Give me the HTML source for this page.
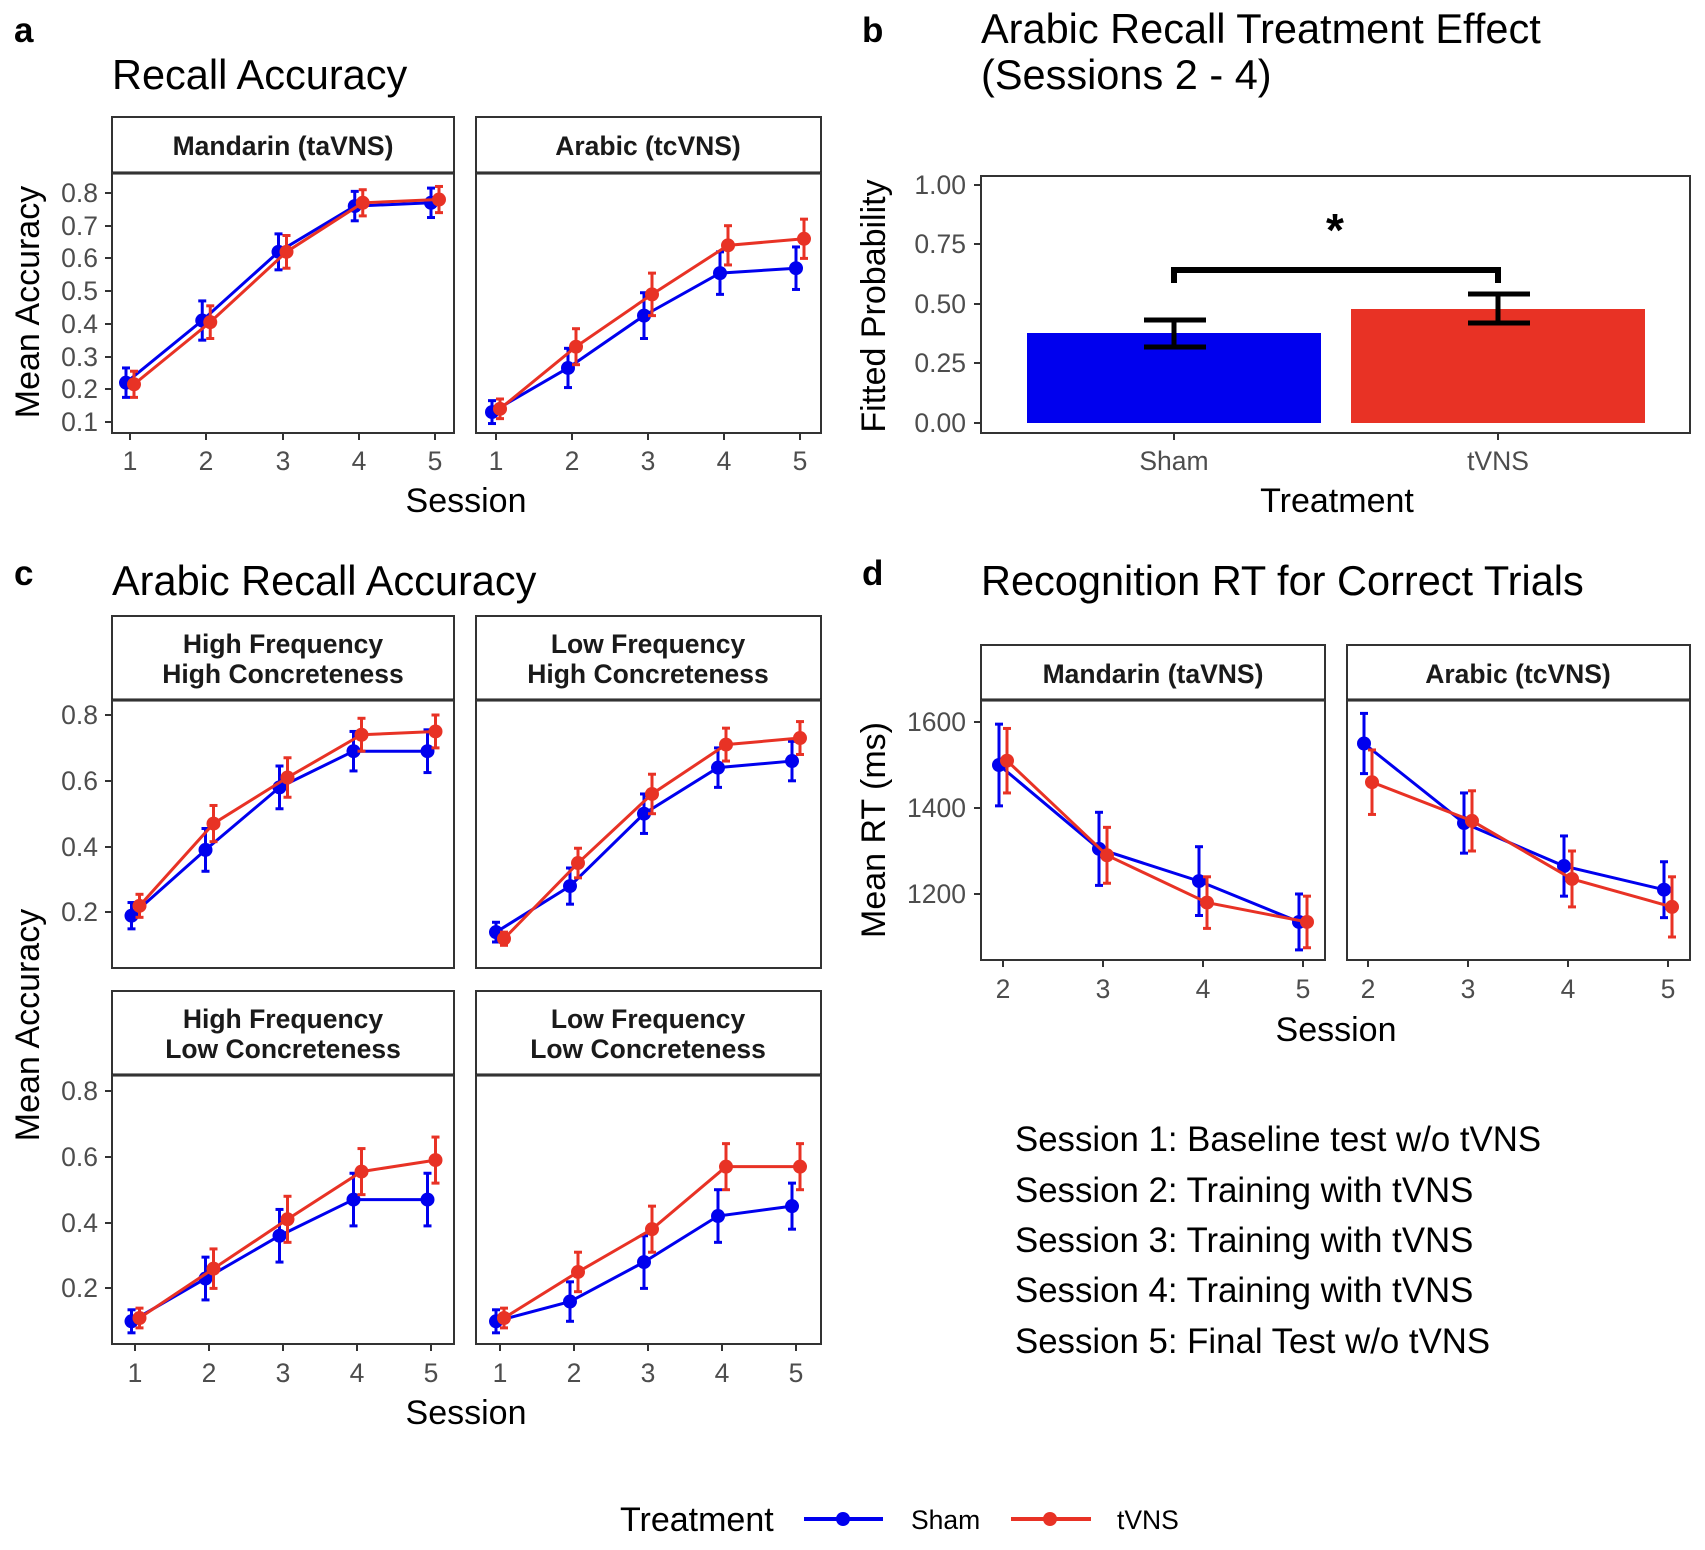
<!DOCTYPE html>
<html><head><meta charset="utf-8"><style>
html,body{margin:0;padding:0;background:#fff}
svg{display:block}
text{font-family:"Liberation Sans",Arial,sans-serif}
.tk{font-size:26.5px;fill:#4d4d4d}
.st{font-size:26.5px;font-weight:bold;fill:#1a1a1a}
.ax{font-size:34px;fill:#000}
.ttl{font-size:41.5px;fill:#000}
.lab{font-size:35px;font-weight:bold;fill:#000}
.note{font-size:34.8px;fill:#000}
</style></head><body>
<svg id="s" width="1705" height="1550" viewBox="0 0 1705 1550" xmlns="http://www.w3.org/2000/svg">
<rect width="1705" height="1550" fill="#fff"/>
<text class="lab" x="14" y="42">a</text>
<text class="lab" x="862" y="42">b</text>
<text class="lab" x="14" y="585">c</text>
<text class="lab" x="862" y="585">d</text>
<text class="ttl" x="112" y="89">Recall Accuracy</text>
<text class="ttl" x="981" y="43">Arabic Recall Treatment Effect</text>
<text class="ttl" x="981" y="89">(Sessions 2 - 4)</text>
<text class="ttl" x="112" y="595">Arabic Recall Accuracy</text>
<text class="ttl" x="981" y="595">Recognition RT for Correct Trials</text>

<g fill="#fff" stroke="#333" stroke-width="2">
<rect x="112" y="117" width="342" height="56"/><rect x="476" y="117" width="345" height="56"/>
<rect x="112" y="616" width="342" height="84"/><rect x="476" y="616" width="345" height="84"/>
<rect x="112" y="991" width="342" height="84"/><rect x="476" y="991" width="345" height="84"/>
<rect x="981" y="645" width="344" height="55"/><rect x="1347" y="645" width="343" height="55"/>
</g>
<g stroke="#1a1a1a" stroke-width="3">
<line x1="112" y1="173" x2="454" y2="173"/><line x1="476" y1="173" x2="821" y2="173"/>
<line x1="112" y1="700" x2="454" y2="700"/><line x1="476" y1="700" x2="821" y2="700"/>
<line x1="112" y1="1075" x2="454" y2="1075"/><line x1="476" y1="1075" x2="821" y2="1075"/>
<line x1="981" y1="700" x2="1325" y2="700"/><line x1="1347" y1="700" x2="1690" y2="700"/>
</g>
<g text-anchor="middle">
<text class="st" x="283" y="155">Mandarin (taVNS)</text>
<text class="st" x="648" y="155">Arabic (tcVNS)</text>
<text class="st" x="283" y="653">High Frequency</text><text class="st" x="283" y="683">High Concreteness</text>
<text class="st" x="648" y="653">Low Frequency</text><text class="st" x="648" y="683">High Concreteness</text>
<text class="st" x="283" y="1028">High Frequency</text><text class="st" x="283" y="1058">Low Concreteness</text>
<text class="st" x="648" y="1028">Low Frequency</text><text class="st" x="648" y="1058">Low Concreteness</text>
<text class="st" x="1153" y="683">Mandarin (taVNS)</text>
<text class="st" x="1518" y="683">Arabic (tcVNS)</text>
</g>
<g fill="none" stroke="#333" stroke-width="2">
<rect x="112" y="173" width="342" height="260"/><rect x="476" y="173" width="345" height="260"/>
<rect x="112" y="700" width="342" height="268"/><rect x="476" y="700" width="345" height="268"/>
<rect x="112" y="1075" width="342" height="269"/><rect x="476" y="1075" width="345" height="269"/>
<rect x="981" y="700" width="344" height="260"/><rect x="1347" y="700" width="343" height="260"/>
<rect x="981" y="176" width="709" height="257"/>
</g>
<g text-anchor="end">
<text class="tk" x="98" y="202">0.8</text><text class="tk" x="98" y="235">0.7</text><text class="tk" x="98" y="267">0.6</text><text class="tk" x="98" y="300">0.5</text><text class="tk" x="98" y="333">0.4</text><text class="tk" x="98" y="366">0.3</text><text class="tk" x="98" y="398">0.2</text><text class="tk" x="98" y="431">0.1</text>
<text class="tk" x="98" y="724">0.8</text><text class="tk" x="98" y="790">0.6</text><text class="tk" x="98" y="856">0.4</text><text class="tk" x="98" y="921">0.2</text>
<text class="tk" x="98" y="1100">0.8</text><text class="tk" x="98" y="1166">0.6</text><text class="tk" x="98" y="1232">0.4</text><text class="tk" x="98" y="1297">0.2</text>
<text class="tk" x="966" y="194">1.00</text><text class="tk" x="966" y="253">0.75</text><text class="tk" x="966" y="313">0.50</text><text class="tk" x="966" y="372">0.25</text><text class="tk" x="966" y="432">0.00</text>
<text class="tk" x="966" y="731">1600</text><text class="tk" x="966" y="817">1400</text><text class="tk" x="966" y="903">1200</text>
</g>
<g id="ticks" stroke="#333" stroke-width="2"></g>
<g text-anchor="middle">
<text class="ax" x="466" y="512">Session</text>
<text class="ax" x="1337" y="512">Treatment</text>
<text class="ax" x="466" y="1424">Session</text>
<text class="ax" x="1336" y="1041">Session</text>
<text class="ax" transform="translate(39,302) rotate(-90)">Mean Accuracy</text>
<text class="ax" transform="translate(39,1025) rotate(-90)">Mean Accuracy</text>
<text class="ax" transform="translate(885,306) rotate(-90)">Fitted Probability</text>
<text class="ax" transform="translate(885,830) rotate(-90)">Mean RT (ms)</text>
</g>
<rect x="1027" y="333" width="294" height="90" fill="#0000ee"/>
<rect x="1351" y="309" width="294" height="114" fill="#e83225"/>
<g stroke="#000" stroke-width="5" fill="none">
<line x1="1174" y1="347" x2="1174" y2="320"/><line x1="1144" y1="347" x2="1206" y2="347"/><line x1="1144" y1="320" x2="1206" y2="320"/>
<line x1="1498" y1="323" x2="1498" y2="294"/><line x1="1468" y1="323" x2="1530" y2="323"/><line x1="1468" y1="294" x2="1530" y2="294"/>
<polyline stroke-width="6" points="1174,283 1174,270 1498,270 1498,283"/>
</g>
<text x="1335" y="246" text-anchor="middle" style="font-size:46px;font-weight:bold">*</text>
<text class="tk" x="1174" y="470" text-anchor="middle">Sham</text>
<text class="tk" x="1498" y="470" text-anchor="middle">tVNS</text>
<g id="data"></g>
<text class="note" x="1015" y="1151">Session 1: Baseline test w/o tVNS</text>
<text class="note" x="1015" y="1202">Session 2: Training with tVNS</text>
<text class="note" x="1015" y="1252">Session 3: Training with tVNS</text>
<text class="note" x="1015" y="1302">Session 4: Training with tVNS</text>
<text class="note" x="1015" y="1353">Session 5: Final Test w/o tVNS</text>
<text class="ax" x="620" y="1531">Treatment</text>
<line x1="804" y1="1519" x2="883" y2="1519" stroke="#0000ee" stroke-width="4"/><circle cx="843" cy="1519" r="7" fill="#0000ee"/>
<text class="tk" x="911" y="1529" style="fill:#000">Sham</text>
<line x1="1011" y1="1519" x2="1091" y2="1519" stroke="#e83225" stroke-width="4"/><circle cx="1050" cy="1519" r="7" fill="#e83225"/>
<text class="tk" x="1117" y="1529" style="fill:#000">tVNS</text>
<g text-anchor="middle">
<text class="tk" x="130" y="470">1</text><text class="tk" x="206" y="470">2</text><text class="tk" x="283" y="470">3</text><text class="tk" x="359" y="470">4</text><text class="tk" x="435" y="470">5</text>
<text class="tk" x="496" y="470">1</text><text class="tk" x="572" y="470">2</text><text class="tk" x="648" y="470">3</text><text class="tk" x="724" y="470">4</text><text class="tk" x="800" y="470">5</text>
<text class="tk" x="135" y="1382">1</text><text class="tk" x="209" y="1382">2</text><text class="tk" x="283" y="1382">3</text><text class="tk" x="357" y="1382">4</text><text class="tk" x="431" y="1382">5</text>
<text class="tk" x="500" y="1382">1</text><text class="tk" x="574" y="1382">2</text><text class="tk" x="648" y="1382">3</text><text class="tk" x="722" y="1382">4</text><text class="tk" x="796" y="1382">5</text>
<text class="tk" x="1003" y="998">2</text><text class="tk" x="1103" y="998">3</text><text class="tk" x="1203" y="998">4</text><text class="tk" x="1303" y="998">5</text>
<text class="tk" x="1368" y="998">2</text><text class="tk" x="1468" y="998">3</text><text class="tk" x="1568" y="998">4</text><text class="tk" x="1668" y="998">5</text>
</g>
</svg>
<script>
var NS="http://www.w3.org/2000/svg",T=document.getElementById("ticks"),D=document.getElementById("data");
function el(p,t,a){var e=document.createElementNS(NS,t);for(var k in a)e.setAttribute(k,a[k]);p.appendChild(e);return e;}
function yt(x,ys){ys.forEach(function(y){el(T,"line",{x1:x-7,y1:y,x2:x,y2:y});});}
function xt(xs,y){xs.forEach(function(x){el(T,"line",{x1:x,y1:y,x2:x,y2:y+7});});}
yt(112,[193,226,258,291,324,357,389,422]);yt(112,[715,781,847,912]);yt(112,[1091,1157,1223,1288]);
yt(981,[185,244,304,363,423]);yt(981,[722,808,894]);
xt([130,206,283,359,435,496,572,648,724,800],433);xt([135,209,283,357,431,500,574,648,722,796],1344);
xt([1003,1103,1203,1303,1368,1468,1568,1668],960);xt([1174,1498],433);
function series(x0,dx,yf,vals,err,col,off){
 var pts=vals.map(function(v,i){return [x0+dx*i+off,yf(v)];});
 el(D,"polyline",{points:pts.map(function(p){return p.join(",")}).join(" "),fill:"none",stroke:col,"stroke-width":3});
 pts.forEach(function(p,i){var e=err[i];var a=yf(vals[i]+e),b=yf(vals[i]-e);
  el(D,"line",{x1:p[0],y1:a,x2:p[0],y2:b,stroke:col,"stroke-width":3});
  el(D,"line",{x1:p[0]-4,y1:a,x2:p[0]+4,y2:a,stroke:col,"stroke-width":3});
  el(D,"line",{x1:p[0]-4,y1:b,x2:p[0]+4,y2:b,stroke:col,"stroke-width":3});
  el(D,"circle",{cx:p[0],cy:p[1],r:7,fill:col});});
}
var B="#0000ee",R="#e83225";
function pair(x0,dx,yf,s,t,es,et){series(x0,dx,yf,s,es,B,-4);series(x0,dx,yf,t,et,R,4);}
var ya=function(v){return 193+(0.8-v)*327;};
pair(130,76.25,ya,[.22,.41,.62,.76,.77],[.215,.405,.62,.77,.78],[.045,.06,.055,.045,.045],[.04,.05,.05,.04,.04]);
pair(496,76,ya,[.13,.265,.425,.555,.57],[.14,.33,.49,.64,.66],[.035,.06,.07,.065,.065],[.03,.055,.065,.06,.06]);
var y1=function(v){return 715+(0.8-v)*329;},y2=function(v){return 1091+(0.8-v)*329;};
pair(135.5,74,y1,[.19,.39,.58,.69,.69],[.22,.47,.61,.74,.75],[.04,.065,.065,.06,.065],[.035,.055,.06,.05,.05]);
pair(500,74,y1,[.14,.28,.50,.64,.66],[.12,.35,.56,.71,.73],[.03,.055,.06,.06,.06],[.02,.045,.06,.05,.05]);
pair(135.5,74,y2,[.10,.23,.36,.47,.47],[.11,.26,.41,.555,.59],[.035,.065,.08,.08,.08],[.03,.06,.07,.07,.07]);
pair(500,74,y2,[.10,.16,.28,.42,.45],[.11,.25,.38,.57,.57],[.035,.06,.08,.08,.07],[.03,.06,.07,.07,.07]);
var yd=function(v){return 722+(1600-v)*0.43;};
pair(1003,100,yd,[1500,1305,1230,1135],[1510,1290,1180,1135],[95,85,80,65],[75,65,60,60]);
pair(1368,100,yd,[1550,1365,1265,1210],[1460,1370,1235,1170],[70,70,70,65],[75,70,65,70]);
</script>
</body></html>
